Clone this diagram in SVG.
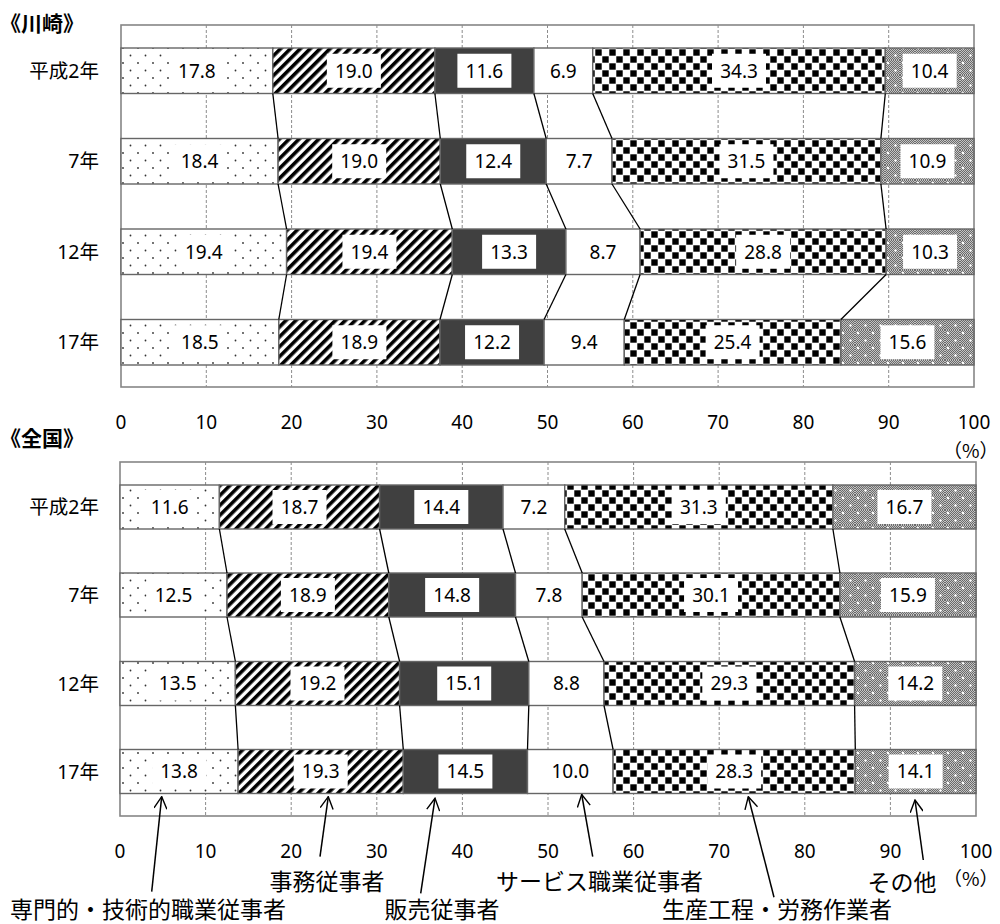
<svg xmlns="http://www.w3.org/2000/svg" width="1000" height="924" viewBox="0 0 1000 924">
<defs>
<pattern id="pDots" patternUnits="userSpaceOnUse" width="15" height="15">
<rect width="15" height="15" fill="#fff"/>
<circle cx="3" cy="3" r="0.9" fill="#333"/>
<circle cx="10.5" cy="10.5" r="0.9" fill="#333"/>
</pattern>
<pattern id="pStripe" patternUnits="userSpaceOnUse" width="7" height="7" patternTransform="rotate(45)">
<rect width="7" height="7" fill="#fff"/>
<rect width="3.6" height="7" fill="#000"/>
</pattern>
<pattern id="pCheck" patternUnits="userSpaceOnUse" width="14" height="14">
<rect width="14" height="14" fill="#fff"/>
<rect x="0.3" y="0.3" width="6.4" height="6.4" fill="#000"/>
<rect x="7.3" y="7.3" width="6.4" height="6.4" fill="#000"/>
</pattern>
<pattern id="pFine" patternUnits="userSpaceOnUse" width="2" height="2">
<rect width="2" height="2" fill="#c4c4c4"/>
<rect width="1" height="1" fill="#6a6a6a"/>
<rect x="1" y="1" width="1" height="1" fill="#6a6a6a"/>
</pattern>
<pattern id="pOther" patternUnits="userSpaceOnUse" width="15" height="15">
<rect width="15" height="15" fill="url(#pFine)"/>
<circle cx="3" cy="3" r="1.2" fill="#fff"/>
<circle cx="10.5" cy="10.5" r="1.2" fill="#fff"/>
</pattern>
<marker id="vHead" viewBox="0 0 14 14" refX="13" refY="7" markerWidth="14" markerHeight="14" markerUnits="userSpaceOnUse" orient="auto">
<path d="M1,0.5 L13,7 L1,13.5" fill="none" stroke="#000" stroke-width="1.4"/>
</marker>
<style>
.frame{fill:#fff;stroke:#868686;stroke-width:1.6}
.grid{stroke:#8c8c8c;stroke-width:1;stroke-dasharray:3,2}
.seg{stroke:#666;stroke-width:1.4}
.s1{fill:url(#pDots)}
.s2{fill:url(#pStripe)}
.s3{fill:#404040}
.s4{fill:#fff}
.s5{fill:url(#pCheck)}
.s6{fill:url(#pOther)}
.lb{fill:#fff}
.vt{font-family:"Noto Sans","Noto Sans CJK JP",sans-serif;font-size:19px;fill:#000;text-anchor:middle}
.yl{font-family:"Noto Sans","Noto Sans CJK JP",sans-serif;font-size:19.5px;fill:#000;text-anchor:end}
.ax{font-family:"Noto Sans","Noto Sans CJK JP",sans-serif;font-size:19px;fill:#000;text-anchor:middle}
.pc{font-family:"Noto Sans CJK JP","Noto Sans",sans-serif;font-size:19px;fill:#000}
.ttl{font-family:"Noto Sans CJK JP",sans-serif;font-size:21px;font-weight:bold;fill:#000}
.an{font-family:"Noto Sans CJK JP",sans-serif;font-size:23px;fill:#000;text-anchor:middle}
.cn{stroke:#000;stroke-width:1.3;fill:none}
.ar{stroke:#000;stroke-width:1.5;fill:none;marker-end:url(#vHead)}
</style>
</defs>
<rect width="1000" height="924" fill="#fff"/>

<!-- ================= Chart 1: Kawasaki ================= -->
<g id="title1"><text class="ttl" x="0" y="31">《川崎》</text></g>
<g id="plot1">
<rect class="frame" x="121" y="25" width="853" height="362"/>
<g>
<line class="grid" x1="206.3" y1="25" x2="206.3" y2="387"/>
<line class="grid" x1="291.6" y1="25" x2="291.6" y2="387"/>
<line class="grid" x1="376.9" y1="25" x2="376.9" y2="387"/>
<line class="grid" x1="462.2" y1="25" x2="462.2" y2="387"/>
<line class="grid" x1="547.5" y1="25" x2="547.5" y2="387"/>
<line class="grid" x1="632.8" y1="25" x2="632.8" y2="387"/>
<line class="grid" x1="718.1" y1="25" x2="718.1" y2="387"/>
<line class="grid" x1="803.4" y1="25" x2="803.4" y2="387"/>
<line class="grid" x1="888.7" y1="25" x2="888.7" y2="387"/>
</g>
</g>
<g id="axis1">
<text class="ax" x="121" y="429">0</text>
<text class="ax" x="206.3" y="429">10</text>
<text class="ax" x="291.6" y="429">20</text>
<text class="ax" x="376.9" y="429">30</text>
<text class="ax" x="462.2" y="429">40</text>
<text class="ax" x="547.5" y="429">50</text>
<text class="ax" x="632.8" y="429">60</text>
<text class="ax" x="718.1" y="429">70</text>
<text class="ax" x="803.4" y="429">80</text>
<text class="ax" x="888.7" y="429">90</text>
<text class="ax" x="974" y="429">100</text>
<text class="pc" x="943" y="458">（%）</text>
</g>

<g id="k-row1">
<text class="yl" x="99" y="77.5">平成2年</text>
<rect class="seg s1" x="121" y="48" width="151.8" height="45.5"/>
<rect class="seg s2" x="272.8" y="48" width="162.1" height="45.5"/>
<rect class="seg s3" x="434.9" y="48" width="99" height="45.5"/>
<rect class="seg s4" x="533.9" y="48" width="58.8" height="45.5"/>
<rect class="seg s5" x="592.7" y="48" width="292.6" height="45.5"/>
<rect class="seg s6" x="885.3" y="48" width="88.7" height="45.5"/>
<rect class="lb" x="169.9" y="53.75" width="54" height="34"/>
<rect class="lb" x="326.85" y="53.75" width="54" height="34"/>
<rect class="lb" x="457.4" y="53.75" width="54" height="34"/>
<rect class="lb" x="541.3" y="53.75" width="44" height="34"/>
<rect class="lb" x="712" y="53.75" width="54" height="34"/>
<rect class="lb" x="902.65" y="53.75" width="54" height="34"/>
<text class="vt" x="196.9" y="77.5">17.8</text>
<text class="vt" x="353.85" y="77.5">19.0</text>
<text class="vt" x="484.4" y="77.5">11.6</text>
<text class="vt" x="563.3" y="77.5">6.9</text>
<text class="vt" x="739" y="77.5">34.3</text>
<text class="vt" x="929.65" y="77.5">10.4</text>
</g>

<g id="k-row2">
<text class="yl" x="99" y="168">7年</text>
<rect class="seg s1" x="121" y="138.5" width="157.1" height="45.5"/>
<rect class="seg s2" x="278.1" y="138.5" width="162.2" height="45.5"/>
<rect class="seg s3" x="440.3" y="138.5" width="105.9" height="45.5"/>
<rect class="seg s4" x="546.2" y="138.5" width="65.8" height="45.5"/>
<rect class="seg s5" x="612" y="138.5" width="268.9" height="45.5"/>
<rect class="seg s6" x="880.9" y="138.5" width="93.1" height="45.5"/>
<rect class="lb" x="172.55" y="144.25" width="54" height="34"/>
<rect class="lb" x="332.2" y="144.25" width="54" height="34"/>
<rect class="lb" x="466.25" y="144.25" width="54" height="34"/>
<rect class="lb" x="557.1" y="144.25" width="44" height="34"/>
<rect class="lb" x="719.45" y="144.25" width="54" height="34"/>
<rect class="lb" x="900.45" y="144.25" width="54" height="34"/>
<text class="vt" x="199.55" y="168">18.4</text>
<text class="vt" x="359.2" y="168">19.0</text>
<text class="vt" x="493.25" y="168">12.4</text>
<text class="vt" x="579.1" y="168">7.7</text>
<text class="vt" x="746.45" y="168">31.5</text>
<text class="vt" x="927.45" y="168">10.9</text>
</g>

<g id="k-row3">
<text class="yl" x="99" y="258.5">12年</text>
<rect class="seg s1" x="121" y="229" width="165.6" height="45.5"/>
<rect class="seg s2" x="286.6" y="229" width="165.7" height="45.5"/>
<rect class="seg s3" x="452.3" y="229" width="113.6" height="45.5"/>
<rect class="seg s4" x="565.9" y="229" width="74.2" height="45.5"/>
<rect class="seg s5" x="640.1" y="229" width="246" height="45.5"/>
<rect class="seg s6" x="886.1" y="229" width="87.9" height="45.5"/>
<rect class="lb" x="176.8" y="234.75" width="54" height="34"/>
<rect class="lb" x="342.45" y="234.75" width="54" height="34"/>
<rect class="lb" x="482.1" y="234.75" width="54" height="34"/>
<rect class="lb" x="581" y="234.75" width="44" height="34"/>
<rect class="lb" x="736.1" y="234.75" width="54" height="34"/>
<rect class="lb" x="903.05" y="234.75" width="54" height="34"/>
<text class="vt" x="203.8" y="258.5">19.4</text>
<text class="vt" x="369.45" y="258.5">19.4</text>
<text class="vt" x="509.1" y="258.5">13.3</text>
<text class="vt" x="603" y="258.5">8.7</text>
<text class="vt" x="763.1" y="258.5">28.8</text>
<text class="vt" x="930.05" y="258.5">10.3</text>
</g>

<g id="k-row4">
<text class="yl" x="99" y="349">17年</text>
<rect class="seg s1" x="121" y="319.5" width="157.8" height="45.5"/>
<rect class="seg s2" x="278.8" y="319.5" width="161.2" height="45.5"/>
<rect class="seg s3" x="440" y="319.5" width="104.1" height="45.5"/>
<rect class="seg s4" x="544.1" y="319.5" width="80.2" height="45.5"/>
<rect class="seg s5" x="624.3" y="319.5" width="216.6" height="45.5"/>
<rect class="seg s6" x="840.9" y="319.5" width="133.1" height="45.5"/>
<rect class="lb" x="172.9" y="325.25" width="54" height="34"/>
<rect class="lb" x="332.4" y="325.25" width="54" height="34"/>
<rect class="lb" x="465.05" y="325.25" width="54" height="34"/>
<rect class="lb" x="562.2" y="325.25" width="44" height="34"/>
<rect class="lb" x="705.6" y="325.25" width="54" height="34"/>
<rect class="lb" x="880.45" y="325.25" width="54" height="34"/>
<text class="vt" x="199.9" y="349">18.5</text>
<text class="vt" x="359.4" y="349">18.9</text>
<text class="vt" x="492.05" y="349">12.2</text>
<text class="vt" x="584.2" y="349">9.4</text>
<text class="vt" x="732.6" y="349">25.4</text>
<text class="vt" x="907.45" y="349">15.6</text>
</g>

<!-- ================= Chart 2: Nationwide ================= -->
<g id="title2"><text class="ttl" x="0" y="446">《全国》</text></g>
<g id="plot2">
<rect class="frame" x="120" y="462" width="856" height="354"/>
<g>
<line class="grid" x1="205.6" y1="462" x2="205.6" y2="816"/>
<line class="grid" x1="291.2" y1="462" x2="291.2" y2="816"/>
<line class="grid" x1="376.8" y1="462" x2="376.8" y2="816"/>
<line class="grid" x1="462.4" y1="462" x2="462.4" y2="816"/>
<line class="grid" x1="548" y1="462" x2="548" y2="816"/>
<line class="grid" x1="633.6" y1="462" x2="633.6" y2="816"/>
<line class="grid" x1="719.2" y1="462" x2="719.2" y2="816"/>
<line class="grid" x1="804.8" y1="462" x2="804.8" y2="816"/>
<line class="grid" x1="890.4" y1="462" x2="890.4" y2="816"/>
</g>
</g>
<g id="axis2">
<text class="ax" x="120" y="858">0</text>
<text class="ax" x="205.6" y="858">10</text>
<text class="ax" x="291.2" y="858">20</text>
<text class="ax" x="376.8" y="858">30</text>
<text class="ax" x="462.4" y="858">40</text>
<text class="ax" x="548" y="858">50</text>
<text class="ax" x="633.6" y="858">60</text>
<text class="ax" x="719.2" y="858">70</text>
<text class="ax" x="804.8" y="858">80</text>
<text class="ax" x="890.4" y="858">90</text>
<text class="ax" x="976" y="858">100</text>
<text class="pc" x="943" y="886">（%）</text>
</g>

<g id="z-row1">
<text class="yl" x="99" y="514">平成2年</text>
<rect class="seg s1" x="120" y="485" width="99.4" height="44"/>
<rect class="seg s2" x="219.4" y="485" width="160.2" height="44"/>
<rect class="seg s3" x="379.6" y="485" width="123.4" height="44"/>
<rect class="seg s4" x="503" y="485" width="61.7" height="44"/>
<rect class="seg s5" x="564.7" y="485" width="268.2" height="44"/>
<rect class="seg s6" x="832.9" y="485" width="143.1" height="44"/>
<rect class="lb" x="142.7" y="490" width="54" height="34"/>
<rect class="lb" x="272.5" y="490" width="54" height="34"/>
<rect class="lb" x="414.3" y="490" width="54" height="34"/>
<rect class="lb" x="511.85" y="490" width="44" height="34"/>
<rect class="lb" x="671.8" y="490" width="54" height="34"/>
<rect class="lb" x="877.45" y="490" width="54" height="34"/>
<text class="vt" x="169.7" y="513.8">11.6</text>
<text class="vt" x="299.5" y="513.8">18.7</text>
<text class="vt" x="441.3" y="513.8">14.4</text>
<text class="vt" x="533.85" y="513.8">7.2</text>
<text class="vt" x="698.8" y="513.8">31.3</text>
<text class="vt" x="904.45" y="513.8">16.7</text>
</g>

<g id="z-row2">
<text class="yl" x="99" y="602">7年</text>
<rect class="seg s1" x="120" y="573" width="107" height="44"/>
<rect class="seg s2" x="227" y="573" width="161.8" height="44"/>
<rect class="seg s3" x="388.8" y="573" width="126.7" height="44"/>
<rect class="seg s4" x="515.5" y="573" width="66.7" height="44"/>
<rect class="seg s5" x="582.2" y="573" width="257.7" height="44"/>
<rect class="seg s6" x="839.9" y="573" width="136.1" height="44"/>
<rect class="lb" x="146.5" y="578" width="54" height="34"/>
<rect class="lb" x="280.9" y="578" width="54" height="34"/>
<rect class="lb" x="425.15" y="578" width="54" height="34"/>
<rect class="lb" x="526.85" y="578" width="44" height="34"/>
<rect class="lb" x="684.05" y="578" width="54" height="34"/>
<rect class="lb" x="880.95" y="578" width="54" height="34"/>
<text class="vt" x="173.5" y="601.8">12.5</text>
<text class="vt" x="307.9" y="601.8">18.9</text>
<text class="vt" x="452.15" y="601.8">14.8</text>
<text class="vt" x="548.85" y="601.8">7.8</text>
<text class="vt" x="711.05" y="601.8">30.1</text>
<text class="vt" x="907.95" y="601.8">15.9</text>
</g>

<g id="z-row3">
<text class="yl" x="99" y="690.5">12年</text>
<rect class="seg s1" x="120" y="661.5" width="115.4" height="44"/>
<rect class="seg s2" x="235.4" y="661.5" width="164.2" height="44"/>
<rect class="seg s3" x="399.6" y="661.5" width="129.2" height="44"/>
<rect class="seg s4" x="528.8" y="661.5" width="75.2" height="44"/>
<rect class="seg s5" x="604" y="661.5" width="250.6" height="44"/>
<rect class="seg s6" x="854.6" y="661.5" width="121.4" height="44"/>
<rect class="lb" x="150.7" y="666.5" width="54" height="34"/>
<rect class="lb" x="290.5" y="666.5" width="54" height="34"/>
<rect class="lb" x="437.2" y="666.5" width="54" height="34"/>
<rect class="lb" x="544.4" y="666.5" width="44" height="34"/>
<rect class="lb" x="702.3" y="666.5" width="54" height="34"/>
<rect class="lb" x="888.3" y="666.5" width="54" height="34"/>
<text class="vt" x="177.7" y="690.3">13.5</text>
<text class="vt" x="317.5" y="690.3">19.2</text>
<text class="vt" x="464.2" y="690.3">15.1</text>
<text class="vt" x="566.4" y="690.3">8.8</text>
<text class="vt" x="729.3" y="690.3">29.3</text>
<text class="vt" x="915.3" y="690.3">14.2</text>
</g>

<g id="z-row4">
<text class="yl" x="99" y="778.5">17年</text>
<rect class="seg s1" x="120" y="749.5" width="118.1" height="44"/>
<rect class="seg s2" x="238.1" y="749.5" width="165.2" height="44"/>
<rect class="seg s3" x="403.3" y="749.5" width="124.2" height="44"/>
<rect class="seg s4" x="527.5" y="749.5" width="85.6" height="44"/>
<rect class="seg s5" x="613.1" y="749.5" width="242.2" height="44"/>
<rect class="seg s6" x="855.3" y="749.5" width="120.7" height="44"/>
<rect class="lb" x="152.05" y="754.5" width="54" height="34"/>
<rect class="lb" x="293.7" y="754.5" width="54" height="34"/>
<rect class="lb" x="438.4" y="754.5" width="54" height="34"/>
<rect class="lb" x="543.3" y="754.5" width="54" height="34"/>
<rect class="lb" x="707.2" y="754.5" width="54" height="34"/>
<rect class="lb" x="888.65" y="754.5" width="54" height="34"/>
<text class="vt" x="179.05" y="778.3">13.8</text>
<text class="vt" x="320.7" y="778.3">19.3</text>
<text class="vt" x="465.4" y="778.3">14.5</text>
<text class="vt" x="570.3" y="778.3">10.0</text>
<text class="vt" x="734.2" y="778.3">28.3</text>
<text class="vt" x="915.65" y="778.3">14.1</text>
</g>

<!-- ================= Connectors ================= -->
<g id="connectors">
<line class="cn" x1="272.8" y1="93.5" x2="278.1" y2="138.5"/>
<line class="cn" x1="434.9" y1="93.5" x2="440.3" y2="138.5"/>
<line class="cn" x1="533.9" y1="93.5" x2="546.2" y2="138.5"/>
<line class="cn" x1="592.7" y1="93.5" x2="612" y2="138.5"/>
<line class="cn" x1="885.3" y1="93.5" x2="880.9" y2="138.5"/>
<line class="cn" x1="278.1" y1="184" x2="286.6" y2="229"/>
<line class="cn" x1="440.3" y1="184" x2="452.3" y2="229"/>
<line class="cn" x1="546.2" y1="184" x2="565.9" y2="229"/>
<line class="cn" x1="612" y1="184" x2="640.1" y2="229"/>
<line class="cn" x1="880.9" y1="184" x2="886.1" y2="229"/>
<line class="cn" x1="286.6" y1="274.5" x2="278.8" y2="319.5"/>
<line class="cn" x1="452.3" y1="274.5" x2="440" y2="319.5"/>
<line class="cn" x1="565.9" y1="274.5" x2="544.1" y2="319.5"/>
<line class="cn" x1="640.1" y1="274.5" x2="624.3" y2="319.5"/>
<line class="cn" x1="886.1" y1="274.5" x2="840.9" y2="319.5"/>

<line class="cn" x1="219.4" y1="529" x2="227" y2="573"/>
<line class="cn" x1="379.6" y1="529" x2="388.8" y2="573"/>
<line class="cn" x1="503" y1="529" x2="515.5" y2="573"/>
<line class="cn" x1="564.7" y1="529" x2="582.2" y2="573"/>
<line class="cn" x1="832.9" y1="529" x2="839.9" y2="573"/>
<line class="cn" x1="227" y1="617" x2="235.4" y2="661.5"/>
<line class="cn" x1="388.8" y1="617" x2="399.6" y2="661.5"/>
<line class="cn" x1="515.5" y1="617" x2="528.8" y2="661.5"/>
<line class="cn" x1="582.2" y1="617" x2="604" y2="661.5"/>
<line class="cn" x1="839.9" y1="617" x2="854.6" y2="661.5"/>
<line class="cn" x1="235.4" y1="705.5" x2="238.1" y2="749.5"/>
<line class="cn" x1="399.6" y1="705.5" x2="403.3" y2="749.5"/>
<line class="cn" x1="528.8" y1="705.5" x2="527.5" y2="749.5"/>
<line class="cn" x1="604" y1="705.5" x2="613.1" y2="749.5"/>
<line class="cn" x1="854.6" y1="705.5" x2="855.3" y2="749.5"/>
</g>

<!-- ================= Legend annotations ================= -->
<g id="annotations">
<line class="ar" x1="151.7" y1="891.7" x2="161.7" y2="796.7"/>
<line class="ar" x1="320" y1="856.7" x2="328.3" y2="796.7"/>
<line class="ar" x1="420.7" y1="893.3" x2="435" y2="798.3"/>
<line class="ar" x1="592.7" y1="856.7" x2="581.7" y2="794.5"/>
<line class="ar" x1="774" y1="897.3" x2="748.3" y2="796.7"/>
<line class="ar" x1="923.3" y1="860" x2="915" y2="800"/>
</g>
<g id="label-professional"><text class="an" x="148" y="918">専門的・技術的職業従事者</text></g>
<g id="label-clerical"><text class="an" x="327" y="890">事務従事者</text></g>
<g id="label-sales"><text class="an" x="442" y="918">販売従事者</text></g>
<g id="label-service"><text class="an" x="599.5" y="890">サービス職業従事者</text></g>
<g id="label-production"><text class="an" x="777" y="918">生産工程・労務作業者</text></g>
<g id="label-other"><text class="an" x="902" y="891">その他</text></g>
</svg>
